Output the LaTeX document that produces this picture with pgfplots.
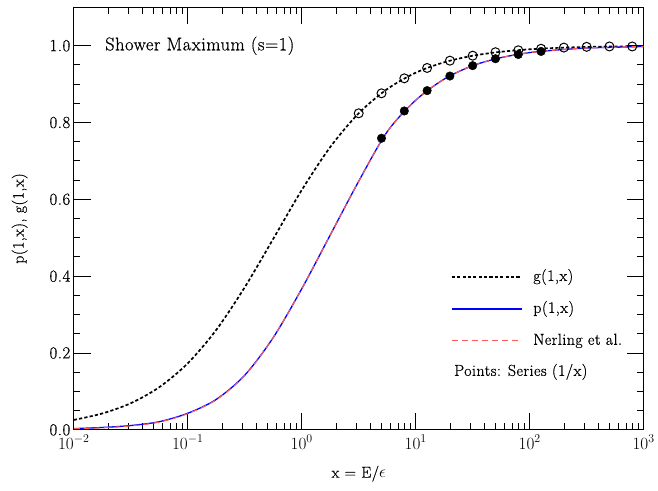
\documentclass[border=0pt]{standalone}
\usepackage{pgfplots}
\pgfplotsset{compat=1.18}
\usepackage{pgfplotstable}
\usepackage{fontspec}
\setmainfont{Latin Modern Roman}[LetterSpace=3, FakeBold=0.6]

% curves (x, g, p, Nerling)
\pgfplotstableread{
x        g       p      n
0.01     0.0256  0.003  0.003
0.017783 0.0424  0.006  0.005
0.031623 0.0691  0.011  0.010
0.056234 0.1108  0.021  0.020
0.1      0.173   0.043  0.042
0.17783  0.260   0.079  0.078
0.31623  0.371   0.142  0.141
0.56234  0.497   0.240  0.240
1        0.624   0.367  0.367
1.7783   0.736   0.507  0.507
3.1623   0.824   0.647  0.647
5.6234   0.887   0.776  0.776
10       0.9296  0.858  0.858
17.783   0.9568  0.913  0.913
31.623   0.9738  0.948  0.948
56.234   0.9842  0.969  0.969
100      0.9906  0.982  0.982
177.83   0.9944  0.989  0.989
316.23   0.9966  0.994  0.994
562.34   0.9980  0.996  0.996
1000     0.9988  0.998  0.998
}\curves

% series points (open: g, filled: p)
\pgfplotstableread{
x      y
3.1623 0.824
5.0119 0.876
7.9433 0.915
12.589 0.942
19.953 0.961
31.623 0.974
50.119 0.983
79.433 0.988
125.89 0.992
199.53 0.995
316.23 0.997
501.19 0.998
794.33 0.998
}\opents

\pgfplotstableread{
x      y
5.0119 0.759
7.9433 0.830
12.589 0.883
19.953 0.921
31.623 0.948
50.119 0.966
79.433 0.977
125.89 0.985
}\fullpts

\begin{document}
\begin{tikzpicture}
\begin{axis}[
    scale only axis,
    width=571.5bp, height=423.7bp,
    xmode=log, log basis x=10,
    xmin=1e-2, xmax=1e3,
    ymin=0, ymax=1.1,
    ytick={0,0.2,0.4,0.6,0.8,1.0},
    minor y tick num=3,
    yticklabel style={/pgf/number format/.cd, fixed, fixed zerofill, precision=1},
    /pgf/number format/assume math mode=true,
    tick align=inside,
    major tick length=17bp, minor tick length=6.5bp,
    every tick/.style={black, line width=0.9bp},
    axis line style={line width=1.4bp},
    tick label style={font=\fontsize{17}{20}\selectfont},
    label style={font=\fontsize{16}{19}\selectfont},
    xticklabel style={yshift=-2bp},
    xlabel={x = E/$\epsilon$},
    ylabel={p(1,x), g(1,x)},
    xlabel style={at={(axis description cs:0.5,-0.104)}, anchor=center},
    ylabel style={at={(axis description cs:-0.095,0.5)}, anchor=center},
    legend style={draw=none, fill=none, at={(axis description cs:0.6614,0.381)},
        anchor=north west, inner sep=0pt, row sep=16bp,
        nodes={inner sep=0pt, text height=12bp, text depth=4bp},
        /tikz/every odd column/.style={column sep=11bp},
        font=\fontsize{16}{19}\selectfont},
    legend cell align=left,
    legend image code/.code={\draw[#1] (0bp,0bp) -- (70bp,0bp);},
]
\addplot[black, line width=1.7bp, dash pattern=on 3.2bp off 2.2bp, smooth] table[x=x, y=g] {\curves};
\addlegendentry{g(1,x)}
\addplot[color=blue, line width=1.3bp, smooth] table[x=x, y=p] {\curves};
\addlegendentry{p(1,x)}
\addplot[color={rgb,255:red,255;green,90;blue,90}, line width=1.1bp, dash pattern=on 6bp off 4bp, smooth] table[x=x, y=n] {\curves};
\addlegendentry{Nerling et al.}

\addplot[forget plot, only marks, mark=*, mark size=4.3bp, black] table {\fullpts};
\addplot[forget plot, only marks, mark=o, mark size=4.5bp, black, line width=1bp] table {\opents};

\node[anchor=west, font=\fontsize{18.5}{22}\selectfont] at (rel axis cs:0.049,0.909) {Shower Maximum (s=1)};
\node[anchor=west, font=\fontsize{16}{19}\selectfont] at (rel axis cs:0.6614,0.137) {Points: Series (1/x)};
\end{axis}
\path (current axis.south west) ++(-74bp,-61bp) rectangle ++(658bp,492bp);
\end{tikzpicture}
\end{document}
